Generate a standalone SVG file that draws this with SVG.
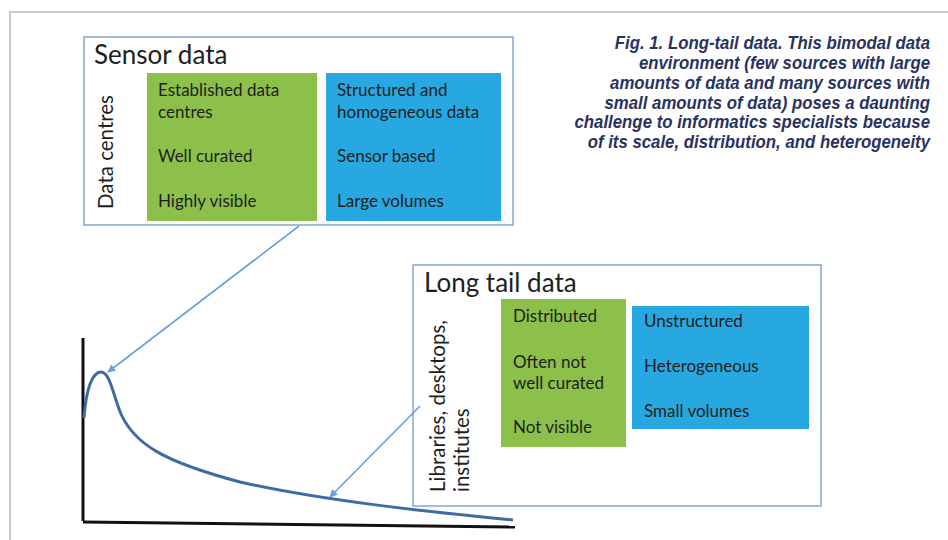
<svg xmlns="http://www.w3.org/2000/svg" width="948" height="540" viewBox="0 0 948 540">
<style>
.frame{fill:none;stroke:#c9cbc9;stroke-width:2}
.box{fill:#fff;stroke:#8eaad2;stroke-width:1.6}
.green{fill:#8cc04a}
.blue{fill:#27a8e0}
.t{font-family:Lato,"Open Sans","Liberation Sans",sans-serif;fill:#1e1e1e}
.title{font-size:26px}
.item{font-size:17px}
.side{font-size:20.5px}
.cap{font-family:"Liberation Sans",Arial,sans-serif;font-weight:bold;font-style:italic;font-size:17.5px;fill:#2a3360;text-anchor:end}
.axis{stroke:#111;stroke-width:3;fill:none}
.curve{stroke:#3b6ca3;stroke-width:3;fill:none}
.conn{stroke:#6a9fd8;stroke-width:1.6;fill:none}
</style>
<defs>
<marker id="ah" viewBox="0 0 10 10" refX="9" refY="5" markerWidth="5" markerHeight="5" orient="auto" markerUnits="strokeWidth">
<path d="M0,0 L10,5 L0,10 z" fill="#6a9fd8"/>
</marker>
</defs>
<rect width="948" height="540" fill="#fff"/>
<path class="frame" d="M10,540 V12 H948"/>

<g id="caption" transform="translate(930,0) scale(0.96,1)">
<text class="cap" x="0" y="49">Fig. 1. Long-tail data. This bimodal data</text>
<text class="cap" x="0" y="69">environment (few sources with large</text>
<text class="cap" x="0" y="89">amounts of data and many sources with</text>
<text class="cap" x="0" y="109">small amounts of data) poses a daunting</text>
<text class="cap" x="0" y="128">challenge to informatics specialists because</text>
<text class="cap" x="0" y="148">of its scale, distribution, and heterogeneity</text>
</g>

<g id="chart">
<path class="axis" d="M83,338 V521"/>
<path class="axis" d="M83,522 L515,527"/>
<path class="curve" d="M84,418 C86,390 92,372 101,372 C110,372 113,395 121,414 C135,445 165,462 240,482 C320,500 420,511 513,520"/>
</g>

<g id="sensor">
<rect class="box" x="84" y="37" width="429" height="188"/>
<text class="t title" x="94" y="64">Sensor data</text>
<text class="t side" transform="translate(113,152) rotate(-90)" text-anchor="middle">Data centres</text>
<rect class="green" x="147" y="73" width="170" height="148"/>
<rect class="blue" x="326" y="73" width="175" height="148"/>
<text class="t item" x="158" y="96">Established data</text>
<text class="t item" x="158" y="118">centres</text>
<text class="t item" x="158" y="162">Well curated</text>
<text class="t item" x="158" y="207">Highly visible</text>
<text class="t item" x="337" y="96">Structured and</text>
<text class="t item" x="337" y="118">homogeneous data</text>
<text class="t item" x="337" y="162">Sensor based</text>
<text class="t item" x="337" y="207">Large volumes</text>
</g>

<g id="longtail">
<rect class="box" x="413" y="265" width="408" height="241"/>
<text class="t title" x="424" y="292">Long tail data</text>
<text class="t side" transform="translate(445,492) rotate(-90)">Libraries, desktops,</text>
<text class="t side" transform="translate(469,492) rotate(-90)">institutes</text>
<rect class="green" x="501" y="299" width="125" height="148"/>
<rect class="blue" x="632" y="306" width="177" height="123"/>
<text class="t item" x="513" y="322">Distributed</text>
<text class="t item" x="513" y="368">Often not</text>
<text class="t item" x="513" y="389">well curated</text>
<text class="t item" x="513" y="433">Not visible</text>
<text class="t item" x="644" y="327">Unstructured</text>
<text class="t item" x="644" y="372">Heterogeneous</text>
<text class="t item" x="644" y="417">Small volumes</text>
</g>

<g id="connectors">
<path class="conn" d="M299,226 L108,372" marker-end="url(#ah)"/>
<path class="conn" d="M420,406 L330,497" marker-end="url(#ah)"/>
</g>
</svg>
